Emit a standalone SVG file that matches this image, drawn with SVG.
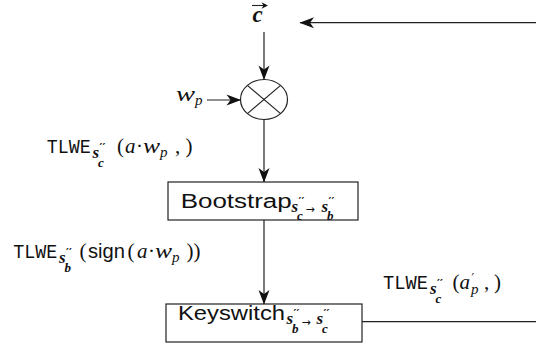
<svg xmlns="http://www.w3.org/2000/svg" width="536" height="345" viewBox="0 0 536 345">
  <style>
    .box { fill: #fff; stroke: #222; stroke-width: 1.2; }
    .wire { fill: none; stroke: #222; stroke-width: 1.2; }
    text { fill: #111; }
    .tt { font-family: "Liberation Mono", "DejaVu Sans Mono", monospace; font-size: 19.5px; }
    .mi { font-family: "Liberation Serif", "DejaVu Serif", serif; font-style: italic; font-weight: normal; font-size: 21px; }
    .rm { font-family: "Liberation Serif", "DejaVu Serif", serif; font-style: normal; font-weight: normal; font-size: 21px; }
    .sf { font-family: "Liberation Sans", "DejaVu Sans", sans-serif; font-style: normal; font-weight: normal; font-size: 20px; }
    .bi { font-family: "Liberation Serif", "DejaVu Serif", serif; font-style: italic; font-weight: bold; font-size: 17px; }
    .bis { font-family: "Liberation Serif", "DejaVu Serif", serif; font-style: italic; font-weight: bold; font-size: 13px; }
    .pr { font-family: "DejaVu Sans", sans-serif; font-style: normal; font-weight: bold; font-size: 11px; }
    .sub { font-family: "Liberation Serif", "DejaVu Serif", serif; font-style: italic; font-weight: normal; font-size: 15px; }
    .to { font-family: "DejaVu Sans", sans-serif; font-style: normal; font-weight: normal; font-size: 11px; }
  </style>
  <defs>
    <marker id="stealth" viewBox="-15 -7 16 14" refX="0" refY="0" markerWidth="16" markerHeight="14" markerUnits="userSpaceOnUse" orient="auto" overflow="visible">
      <path d="M0.5,0 L-14,-5.5 L-10,0 L-14,5.5 Z" fill="#111" stroke="none"/>
    </marker>
  </defs>

  <!-- connectors -->
  <g id="connectors">
    <path class="wire" d="M536,22.7 H300" marker-end="url(#stealth)"/>
    <path class="wire" d="M264,32 V79.5" marker-end="url(#stealth)"/>
    <path class="wire" d="M207,100 H240.5" marker-end="url(#stealth)"/>
    <path class="wire" d="M264,119.5 V182" marker-end="url(#stealth)"/>
    <path class="wire" d="M264,220 V304" marker-end="url(#stealth)"/>
    <path class="wire" d="M362,321.7 H536"/>
  </g>

  <!-- input vector c -->
  <g id="input-c">
    <text class="bi" x="252.5" y="22" style="font-size:23px">c</text>
    <path class="wire" d="M252,5.5 H266" style="stroke-width:1.1"/>
    <path d="M261.5,2.2 L268,5.5 L261.5,8.8 L263.5,5.5 Z" fill="#111"/>
  </g>

  <!-- weight input -->
  <g id="weight">
    <text class="mi" x="176" y="101"><tspan textLength="19" lengthAdjust="spacingAndGlyphs">w</tspan><tspan class="sub" x="195" y="105">p</tspan></text>
  </g>

  <!-- multiplier -->
  <g id="multiply">
    <ellipse cx="264" cy="99.5" rx="23.5" ry="20" fill="#fff" stroke="#222" stroke-width="1.2"/>
    <path class="wire" d="M247.4,85.4 L280.6,113.6 M280.6,85.4 L247.4,113.6"/>
  </g>

  <!-- bootstrap block -->
  <g id="bootstrap">
    <rect class="box" x="168" y="182" width="190" height="38"/>
    <text class="sf" x="180.7" y="207.5"><tspan textLength="111" lengthAdjust="spacingAndGlyphs">Bootstrap</tspan><tspan class="bi" x="291.5" y="211.5">s</tspan><tspan class="pr" x="298.5" y="204.5">′′</tspan><tspan class="bis" x="297" y="220">c</tspan><tspan class="to" x="305.5" y="213">→</tspan><tspan class="bi" x="321.5" y="211.5">s</tspan><tspan class="pr" x="328.5" y="204.5">′′</tspan><tspan class="bis" x="327" y="220">b</tspan></text>
  </g>

  <!-- keyswitch block -->
  <g id="keyswitch">
    <rect class="box" x="166" y="304" width="196" height="38"/>
    <text class="sf" x="178" y="320"><tspan textLength="107" lengthAdjust="spacingAndGlyphs">Keyswitch</tspan><tspan class="bi" x="286.5" y="324">s</tspan><tspan class="pr" x="293.5" y="317">′′</tspan><tspan class="bis" x="292" y="332.5">b</tspan><tspan class="to" x="301.5" y="325.5">→</tspan><tspan class="bi" x="316.5" y="324">s</tspan><tspan class="pr" x="323.5" y="317">′′</tspan><tspan class="bis" x="322" y="332.5">c</tspan></text>
  </g>

  <!-- edge labels -->
  <g id="label-product">
    <text class="tt" x="46.7" y="153"><tspan textLength="44" lengthAdjust="spacingAndGlyphs">TLWE</tspan><tspan class="bi" x="92.5" y="157.7">s</tspan><tspan class="pr" x="99.5" y="150.5">′′</tspan><tspan class="bis" x="98" y="167">c</tspan><tspan class="rm" x="117" y="153">(</tspan><tspan class="mi" x="125" y="153">a</tspan><tspan class="rm" x="136" y="153">·</tspan><tspan class="mi" x="143" y="153" textLength="17" lengthAdjust="spacingAndGlyphs">w</tspan><tspan class="sub" x="160" y="157">p</tspan><tspan class="rm" x="175" y="153">,</tspan><tspan class="rm" x="185.5" y="153">)</tspan></text>
  </g>

  <g id="label-sign">
    <text class="tt" x="13.3" y="258"><tspan textLength="44" lengthAdjust="spacingAndGlyphs">TLWE</tspan><tspan class="bi" x="59" y="262.7">s</tspan><tspan class="pr" x="66" y="255.5">′′</tspan><tspan class="bis" x="64.5" y="271.5">b</tspan><tspan class="rm" x="79.5" y="258">(</tspan><tspan class="sf" x="88" y="258" textLength="37" lengthAdjust="spacingAndGlyphs">sign</tspan><tspan class="rm" x="127.5" y="258">(</tspan><tspan class="mi" x="137" y="258">a</tspan><tspan class="rm" x="148" y="258">·</tspan><tspan class="mi" x="155" y="258" textLength="17" lengthAdjust="spacingAndGlyphs">w</tspan><tspan class="sub" x="172" y="262">p</tspan><tspan class="rm" x="186.5" y="258">))</tspan></text>
  </g>

  <g id="label-keyswitched">
    <text class="tt" x="383" y="289"><tspan textLength="45" lengthAdjust="spacingAndGlyphs">TLWE</tspan><tspan class="bi" x="430" y="293.7">s</tspan><tspan class="pr" x="437" y="286.5">′′</tspan><tspan class="bis" x="435.5" y="302.5">c</tspan><tspan class="rm" x="452.5" y="289">(</tspan><tspan class="mi" x="459.5" y="289">a</tspan><tspan class="to" x="471.5" y="282" style="font-size:12px">′</tspan><tspan class="sub" x="471" y="294">p</tspan><tspan class="rm" x="484" y="289">,</tspan><tspan class="rm" x="494" y="289">)</tspan></text>
  </g>
</svg>
